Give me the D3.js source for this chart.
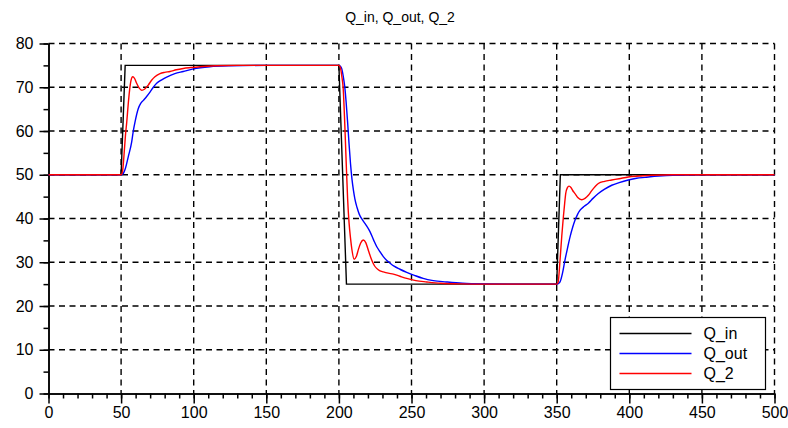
<!DOCTYPE html>
<html>
<head>
<meta charset="utf-8">
<script src="https://cdn.jsdelivr.net/npm/d3@7"></script>
<style>
  body { margin: 0; background: #fff; }
  text { font-family: "Liberation Sans", Arial, sans-serif; fill: #000; }
  .grid line { stroke: #000; stroke-width: 1.4; stroke-dasharray: 6,4.5; }
  .axis path, .axis line { stroke: #000; stroke-width: 1.5; }
  .line { fill: none; stroke-width: 1.4; }
</style>
</head>
<body>
<div id="chart"></div>
<script>
// values
const qInT = [0, 50, 52.8, 200, 205.2, 350, 352.5, 500];
const qInV = [50, 50, 75, 75, 25, 25, 50, 50];

const qOutT = [0, 50, 51.5, 53, 55, 57.3, 58.4, 59.6, 61.8, 63.5, 65.3, 67.6, 69.9, 72.2, 74.5, 78, 81.4, 87, 92.8, 99.7, 111, 125, 150,
    200, 201, 202, 203, 204, 205, 206, 207, 208, 209, 210, 211, 212.5, 214, 216, 218.5, 221.4, 224, 226, 228.3, 230.6, 233, 235.2, 238, 242, 246.7, 252, 258, 265, 274, 285, 300, 320,
    350, 351, 352.3, 354, 355.7, 357.5, 359.2, 361, 362.6, 364.3, 366.1, 369, 371.8, 375, 378.7, 383, 387.9, 393, 399.3, 405, 410.8, 420, 430, 450, 500];
const qOutV = [50, 50, 50.3, 51.5, 54.2, 57.5, 60, 62.1, 65.1, 66.3, 67, 67.9, 68.9, 70, 70.9, 71.7, 72.3, 73.1, 73.6, 74.2, 74.7, 74.9, 75,
    75, 74.8, 74.2, 72.5, 70.2, 66.5, 62, 57, 52.5, 49, 46.5, 44.5, 42.5, 41, 39.8, 38.6, 37, 35, 33.6, 32.4, 31.3, 30.4, 29.8, 29.1, 28.4, 27.7, 27, 26.3, 25.8, 25.5, 25.2, 25.05, 25,
    25, 25.1, 25.5, 27.5, 30.5, 33.3, 35.8, 38, 39.6, 40.9, 41.9, 42.8, 43.5, 44.6, 45.7, 46.7, 47.6, 48.2, 48.8, 49.2, 49.4, 49.7, 49.9, 50, 50];

const q2T = [0, 50, 51, 52, 53, 53.9, 55, 55.7, 56.8, 58, 59.3, 60.7, 62.5, 64.2, 66.3, 68.7, 71, 73.3, 76.8, 80, 83.7, 88, 92.8, 98, 104.3, 115, 130,
    200, 201, 202, 203, 204, 205, 206, 207, 208, 209, 210.5, 212, 213.5, 215, 216.8, 218.5, 220.5, 222.6, 224.5, 226, 228, 230.6, 234, 237.5, 242, 246.7, 253, 260.5, 270, 285, 300,
    350, 351, 352.3, 353.5, 354.6, 355.5, 356.2, 357.3, 358.5, 359.8, 361, 362.6, 364.5, 367.2, 369.5, 371.8, 374, 376.5, 378.7, 383, 387.9, 393, 399.3, 407, 415.4, 430, 500];
const q2V = [50, 50, 50.8, 54.5, 59, 62.1, 66.5, 68.9, 71.5, 72.4, 72, 70.9, 69.8, 69.3, 69.6, 70.5, 71.6, 72.4, 73.1, 73.4, 73.6, 74, 74.3, 74.5, 74.7, 74.9, 75,
    75, 74.5, 72.5, 69.5, 62, 53, 44.5, 39, 35.5, 32.8, 30.7, 31.3, 33, 34.4, 35.1, 34.5, 32.5, 30.5, 29.2, 28.6, 28.1, 27.8, 27.5, 27.3, 26.8, 26.3, 25.8, 25.5, 25.2, 25.05, 25,
    25, 25.5, 30.5, 36, 40.4, 43.5, 45.7, 47, 47.4, 47.1, 46.4, 45.7, 44.8, 44.3, 44.6, 45.3, 46.3, 47.3, 48, 48.5, 48.8, 49.1, 49.5, 49.7, 49.9, 50, 50];

const seriesNames = ["Q_in", "Q_out", "Q_2"];
const seriesColors = ["#000000", "#0000ff", "#ff0000"];
const xTicks = [0, 50, 100, 150, 200, 250, 300, 350, 400, 450, 500];
const yTicks = [0, 10, 20, 30, 40, 50, 60, 70, 80];
const chartTitle = "Q_in, Q_out, Q_2";

const margin = {top: 43.5, right: 13.5, bottom: 34.5, left: 48.5},
    width = 788 - margin.left - margin.right,
    height = 428 - margin.top - margin.bottom;

const x = d3.scaleLinear().domain([0, 500]).range([0, width]);
const y = d3.scaleLinear().domain([0, 80]).range([height, 0]);

const svgRoot = d3.select("#chart").append("svg")
    .attr("width", 788)
    .attr("height", 428);

const svg = svgRoot.append("g")
    .attr("transform", "translate(" + margin.left + "," + margin.top + ")");

// dashed grid
const grid = svg.append("g").attr("class", "grid");
grid.selectAll(".vg")
    .data(xTicks.slice(1))
    .enter().append("line")
    .attr("x1", d => x(d)).attr("x2", d => x(d))
    .attr("y1", 0).attr("y2", height);
grid.selectAll(".hg")
    .data(yTicks.slice(1))
    .enter().append("line")
    .attr("x1", 0).attr("x2", width)
    .attr("y1", d => y(d)).attr("y2", d => y(d));

// minor ticks
svg.append("g")
    .attr("class", "axis")
    .attr("transform", "translate(0," + height + ")")
    .call(d3.axisBottom(x).tickValues(d3.range(0, 501, 10)).tickSize(5).tickSizeOuter(0).tickFormat(""));
svg.append("g")
    .attr("class", "axis")
    .call(d3.axisLeft(y).tickValues(d3.range(0, 81, 5)).tickSize(5).tickSizeOuter(0).tickFormat(""));

// major ticks + labels
const xAxis = svg.append("g")
    .attr("class", "axis")
    .attr("transform", "translate(0," + height + ")")
    .call(d3.axisBottom(x).tickValues(xTicks).tickSize(10).tickSizeOuter(0).tickPadding(3));
xAxis.selectAll("text").style("font-size", "16px");

const yAxis = svg.append("g")
    .attr("class", "axis")
    .call(d3.axisLeft(y).tickValues(yTicks).tickSize(9).tickSizeOuter(0).tickPadding(6));
yAxis.selectAll("text").style("font-size", "16px");

// series
const series = [
    {t: qInT, v: qInV, curve: d3.curveLinear},
    {t: qOutT, v: qOutV, curve: d3.curveMonotoneX},
    {t: q2T, v: q2V, curve: d3.curveMonotoneX}
];

series.forEach(function(s, i) {
    const pts = s.t.map((t, j) => [t, s.v[j]]);
    const line = d3.line()
        .x(d => x(d[0]))
        .y(d => y(d[1]))
        .curve(s.curve);
    svg.append("path")
        .attr("class", "line")
        .attr("stroke", seriesColors[i])
        .attr("d", line(pts));
});

// legend
const legend = svgRoot.append("g").attr("transform", "translate(610.5,317.5)");
legend.append("rect")
    .attr("width", 155).attr("height", 72)
    .attr("fill", "#fff").attr("stroke", "#000").attr("stroke-width", 1.2);
seriesNames.forEach(function(name, i) {
    const yy = 16 + i * 20;
    legend.append("line")
        .attr("x1", 9).attr("x2", 81)
        .attr("y1", yy).attr("y2", yy)
        .attr("stroke", seriesColors[i]).attr("stroke-width", 1.4);
    legend.append("text")
        .attr("x", 93).attr("y", yy)
        .attr("dy", "0.35em")
        .style("font-size", "16px")
        .text(name);
});

// title
svgRoot.append("text")
    .attr("x", 400)
    .attr("y", 22)
    .style("text-anchor", "middle")
    .style("font-size", "14px")
    .text(chartTitle);
</script>
</body>
</html>
